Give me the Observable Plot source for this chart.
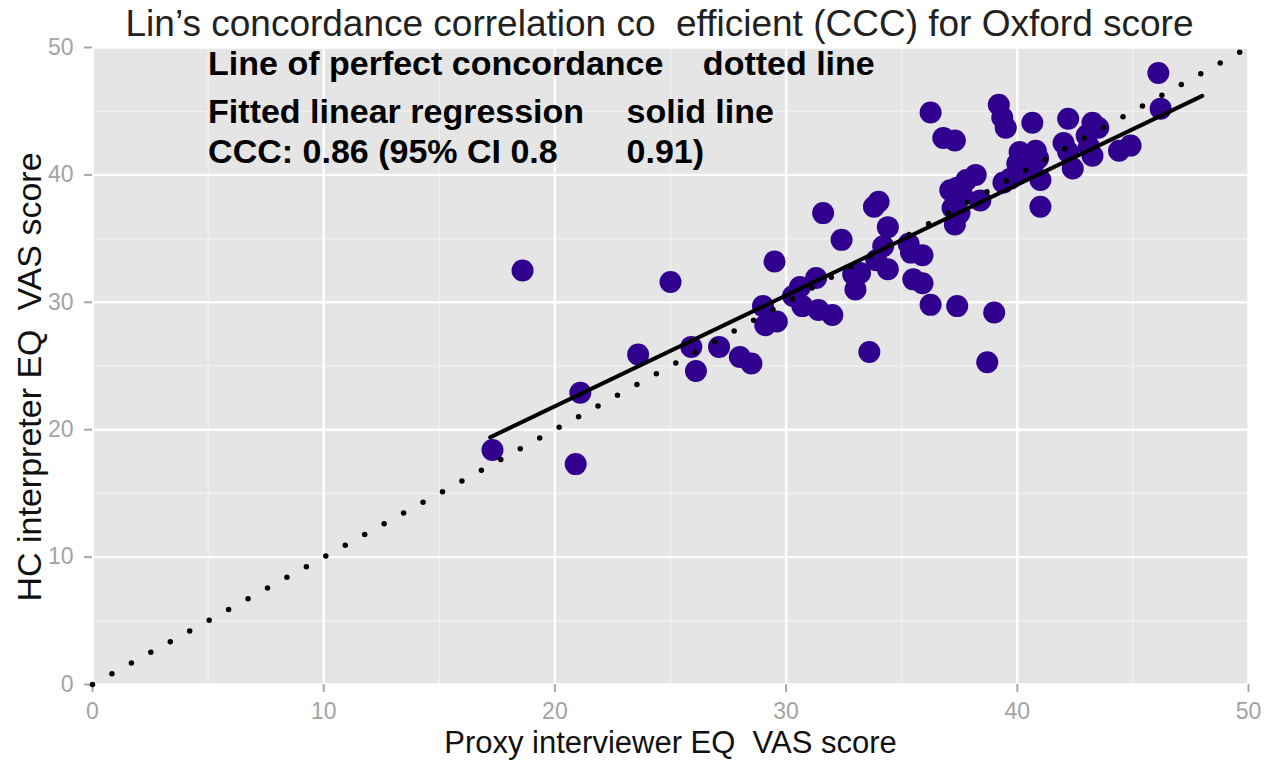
<!DOCTYPE html>
<html>
<head>
<meta charset="utf-8">
<script src="https://cdn.jsdelivr.net/npm/d3@7"></script>
<script src="https://cdn.jsdelivr.net/npm/@observablehq/plot@0.6"></script>
<style>
  html, body { margin: 0; padding: 0; background: #fff; }
</style>
</head>
<body>
<div id="chart"></div>
<script>
// Proxy interviewer EQ VAS score (x) vs HC interpreter EQ VAS score (y)
const proxyScore = [
  17.3, 18.6, 20.9, 21.1, 23.6, 25.0, 25.9, 26.1, 27.1, 28.0,
  28.5, 29.0, 29.1, 29.6, 29.5, 30.6, 30.7, 31.3, 31.4, 32.0,
  31.6, 32.4, 32.9, 33.0, 33.2, 33.6, 33.8, 34.0, 34.4, 34.2,
  33.9, 34.4, 35.3, 35.4, 35.9, 35.5, 35.9, 36.25, 37.4, 38.7,
  39.0, 36.25, 36.8, 37.3, 37.1, 37.4, 37.8, 38.2, 37.2, 37.5,
  37.3, 38.4, 37.6, 39.2, 39.35, 39.5, 39.4, 40.1, 40.8, 40.7,
  40.3, 41.0, 41.0, 40.65, 40.0, 42.2, 42.0, 42.2, 42.4, 43.0,
  43.25, 43.5, 43.25, 43.1, 44.4, 44.9, 46.1, 46.2, 40.9, 39.7,
  30.3
];
const hcScore = [
  18.4, 32.5, 17.3, 22.9, 25.9, 31.6, 26.5, 24.6, 26.5, 25.7,
  25.2, 29.7, 28.2, 28.5, 33.2, 31.2, 29.7, 31.9, 29.4, 29.0,
  37.0, 34.9, 32.2, 31.0, 32.3, 26.1, 37.5, 37.9, 35.9, 34.4,
  33.3, 32.6, 34.6, 33.9, 33.7, 31.8, 31.5, 29.8, 29.7, 25.3,
  29.2, 44.9, 42.9, 42.7, 38.8, 39.0, 39.6, 40.0, 37.4, 37.0,
  36.1, 38.0, 38.5, 45.5, 44.5, 43.7, 39.4, 41.8, 41.9, 40.9,
  40.4, 39.6, 37.5, 44.1, 40.9, 44.4, 42.5, 41.8, 40.5, 43.1,
  44.1, 43.7, 41.5, 42.2, 41.9, 42.3, 48.0, 45.2, 41.3, 39.7,
  30.5
];
// Line of perfect concordance (y = x)
const diagX = [0, 50];
const diagY = [0, 50];
// Fitted linear regression, endpoints
const fitX = [17.2, 48.0];
const fitY = [19.4, 46.2];
// Axis ticks
const majorTicks = [0, 10, 20, 30, 40, 50];
const minorTicks = [5, 15, 25, 35, 45];

const titleText = "Lin\u2019s concordance correlation co  efficient (CCC) for Oxford score";
const xTitle = "Proxy interviewer EQ  VAS score";
const yTitle = "HC interpreter EQ  VAS score";
const noteLines = [
  {x: 5.0, y: 48.7, t: "Line of perfect concordance"},
  {x: 26.4, y: 48.7, t: "dotted line"},
  {x: 5.0, y: 44.95, t: "Fitted linear regression"},
  {x: 23.1, y: 44.95, t: "solid line"},
  {x: 5.0, y: 41.8, t: "CCC: 0.86 (95% CI 0.8"},
  {x: 23.1, y: 41.8, t: "0.91)"}
];

const points = proxyScore.map((x, i) => ({x, y: hcScore[i]}));
const diag = diagX.map((x, i) => ({x, y: diagY[i]}));
const fit = fitX.map((x, i) => ({x, y: fitY[i]}));

const chart = Plot.plot({
  width: 1270,
  height: 766,
  marginLeft: 92,
  marginRight: 22,
  marginTop: 47,
  marginBottom: 82,
  style: {background: "#ffffff", fontFamily: "'Liberation Sans', Arial, sans-serif"},
  x: {domain: [0, 50], label: null},
  y: {domain: [0, 50], label: null},
  marks: [
    Plot.frame({fill: "#e5e5e5", stroke: null}),
    Plot.gridX(minorTicks, {stroke: "#f2f2f2", strokeOpacity: 1, strokeWidth: 1.2}),
    Plot.gridY(minorTicks, {stroke: "#f2f2f2", strokeOpacity: 1, strokeWidth: 1.2}),
    Plot.gridX(majorTicks, {stroke: "#ffffff", strokeOpacity: 1, strokeWidth: 2.4}),
    Plot.gridY(majorTicks, {stroke: "#ffffff", strokeOpacity: 1, strokeWidth: 2.4}),
    Plot.axisX(majorTicks, {tickSize: 8, tickPadding: 10, stroke: "#a8a8a8", strokeWidth: 2, fill: "#a3a3a3", fontSize: 23, label: null}),
    Plot.axisY(majorTicks, {tickSize: 8, tickPadding: 11, stroke: "#a8a8a8", strokeWidth: 2, fill: "#a3a3a3", fontSize: 23, label: null}),
    Plot.dot(points, {x: "x", y: "y", r: 11, fill: "#30008f", stroke: null}),
    Plot.line(diag, {x: "x", y: "y", stroke: "#000", strokeWidth: 5.5, strokeLinecap: "round", strokeDasharray: "0,22.2"}),
    Plot.line(fit, {x: "x", y: "y", stroke: "#000", strokeWidth: 4}),
    Plot.text(noteLines, {x: "x", y: "y", text: "t", textAnchor: "start", fontSize: 34, fontWeight: "bold", fill: "#000"}),
    Plot.text([titleText], {frameAnchor: "top", lineAnchor: "bottom", dy: -12, dx: -11, fontSize: 37, fill: "#222"}),
    Plot.text([xTitle], {frameAnchor: "bottom", lineAnchor: "bottom", dy: 68, fontSize: 31, fill: "#111"}),
    Plot.text([yTitle], {frameAnchor: "left", textAnchor: "middle", lineAnchor: "middle", dx: -62, dy: 11, rotate: -90, fontSize: 34, fill: "#111"})
  ]
});
document.getElementById("chart").appendChild(chart);
</script>
</body>
</html>
